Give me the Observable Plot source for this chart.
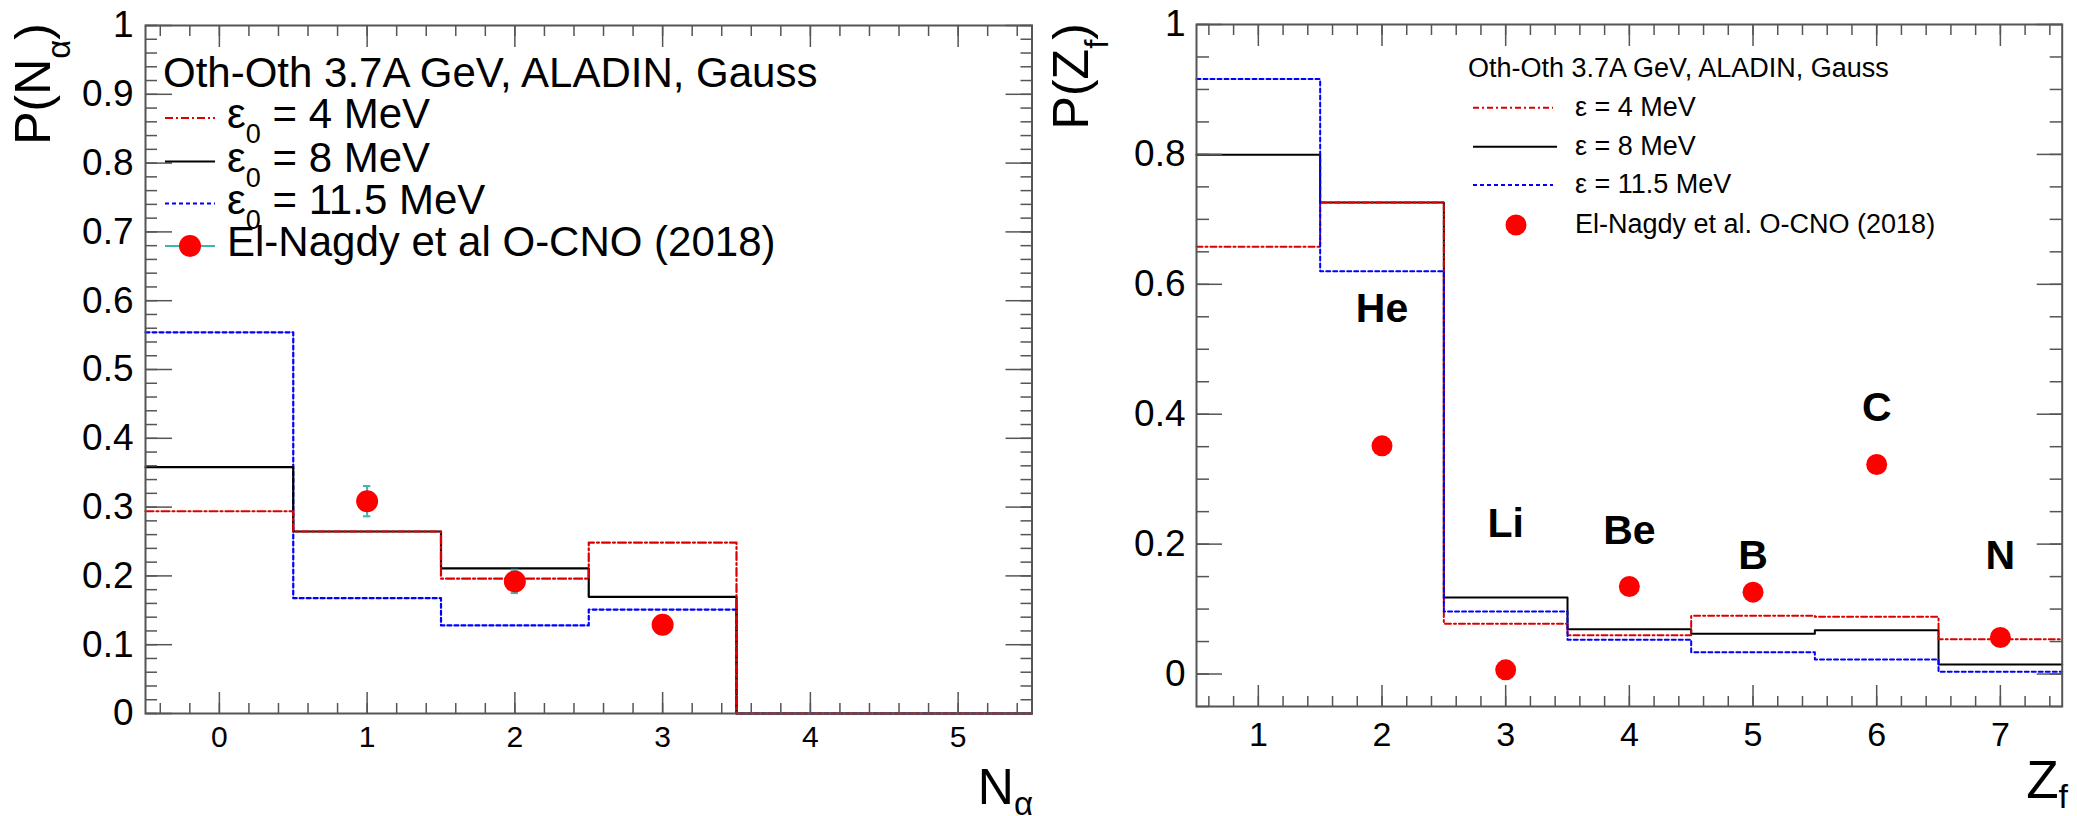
<!DOCTYPE html>
<html><head><meta charset="utf-8">
<script src="https://cdn.jsdelivr.net/npm/d3@7"></script>
<script src="https://cdn.jsdelivr.net/npm/@observablehq/plot@0.6"></script>
<style>
html,body{margin:0;padding:0;background:#fff;}
#wrap{position:relative;width:2077px;height:816px;overflow:hidden;font-family:"Liberation Sans",Arial,Helvetica,sans-serif;}
#left{position:absolute;left:0;top:0;}
#right{position:absolute;left:1040px;top:0;}
</style></head><body><div id="wrap"><div id="left"></div><div id="right"></div></div>
<script>
// ---------------- data: left panel P(N_alpha) ----------------
const nAlphaBins = [0, 1, 2, 3, 4, 5];
const pNalphaE4 = [0.294, 0.2645, 0.196, 0.2485, 0, 0];
const pNalphaE8 = [0.358, 0.2645, 0.211, 0.1696, 0, 0];
const pNalphaE115 = [0.554, 0.1676, 0.128, 0.151, 0, 0];
const nAlphaExpX = [1, 2, 3];
const nAlphaExpY = [0.3086, 0.192, 0.129];
const nAlphaExpErr = [0.022, 0.017, 0.006];

// ---------------- data: right panel P(Z_f) ----------------
const zBins = [1, 2, 3, 4, 5, 6, 7];
const pZE4 = [0.658, 0.726, 0.0773, 0.0597, 0.0896, 0.088, 0.0536];
const pZE8 = [0.7994, 0.726, 0.118, 0.069, 0.062, 0.0674, 0.0146];
const pZE115 = [0.916, 0.620, 0.0962, 0.0527, 0.0336, 0.0223, 0.0034];
const zExpX = [2, 3, 4, 5, 6, 7];
const zExpY = [0.3513, 0.0065, 0.1347, 0.126, 0.3226, 0.0562];
const elementNames = ["He", "Li", "Be", "B", "C", "N"];
const elementLabelY = [0.5416, 0.2106, 0.2005, 0.162, 0.390, 0.162];

// legend texts
const leftLegendTitle = "Oth-Oth 3.7A GeV, ALADIN, Gauss";
const leftLegendRest = [" = 4 MeV", " = 8 MeV", " = 11.5 MeV"];
const leftLegendData = "El-Nagdy et al O-CNO (2018)";
const rightLegendTitle = "Oth-Oth 3.7A GeV, ALADIN, Gauss";
const rightLegendItems = ["\u03b5 = 4 MeV", "\u03b5 = 8 MeV", "\u03b5 = 11.5 MeV", "El-Nagdy et al. O-CNO (2018)"];

// ---------------- styles ----------------
const FONT = '"Liberation Sans", Arial, Helvetica, sans-serif';
const RED_LINE = "#dd0000", BLUE = "#0000ff", BLACK = "#000", MARK = "#ff0000", ERR = "#3cb4b4", AXIS = "#555";
const DASH_RED = "8,3,2,3", DASH_BLUE = "4,3";

function steps(bins, vals) {
  const pts = bins.map((b, i) => ({x: b - 0.5, y: vals[i]}));
  pts.push({x: bins[bins.length - 1] + 0.5, y: vals[vals.length - 1]});
  return pts;
}
const fmt = d => String(+(+d).toFixed(2));
const noLab = () => "";

function frameAxes(o) {
  const m = [];
  m.push(Plot.axisY(o.yMajor, {anchor: "left", tickSize: 0, tickPadding: o.yPad, tickFormat: fmt, fontSize: o.yFont, label: null}));
  m.push(Plot.axisX(o.xMajor, {anchor: "bottom", tickSize: 0, tickPadding: o.xPad, tickFormat: fmt, fontSize: o.xFont, label: null}));
  for (const a of ["left", "right"]) {
    m.push(Plot.axisY(o.yMajor, {anchor: a, tickSize: -o.yMajLen, tickFormat: noLab, label: null, stroke: AXIS, strokeWidth: 1.5}));
    m.push(Plot.axisY(o.yMinor, {anchor: a, tickSize: -o.yMinLen, tickFormat: noLab, label: null, stroke: AXIS, strokeWidth: 1.5}));
  }
  for (const a of ["bottom", "top"]) {
    m.push(Plot.axisX(o.xMajor, {anchor: a, tickSize: -o.xMajLen, tickFormat: noLab, label: null, stroke: AXIS, strokeWidth: 1.5}));
    m.push(Plot.axisX(o.xMinor, {anchor: a, tickSize: -o.xMinLen, tickFormat: noLab, label: null, stroke: AXIS, strokeWidth: 1.5}));
  }
  m.push(Plot.frame({stroke: AXIS, strokeWidth: 2}));
  return m;
}

// ---------------- left panel ----------------
const expLeft = nAlphaExpX.map((x, i) => ({x, y: nAlphaExpY[i], e: nAlphaExpErr[i]}));
const left = Plot.plot({
  width: 1040, height: 816,
  marginLeft: 145, marginRight: 8.5, marginTop: 25, marginBottom: 103,
  style: {fontFamily: FONT, background: "transparent", color: "#000"},
  x: {domain: [-0.5, 5.5], axis: null},
  y: {domain: [0, 1], axis: null},
  marks: [
    Plot.line(steps(nAlphaBins, pNalphaE115), {x: "x", y: "y", curve: "step-after", stroke: BLUE, strokeWidth: 2.2, strokeDasharray: DASH_BLUE}),
    Plot.line(steps(nAlphaBins, pNalphaE8), {x: "x", y: "y", curve: "step-after", stroke: BLACK, strokeWidth: 2.2}),
    Plot.line(steps(nAlphaBins, pNalphaE4), {x: "x", y: "y", curve: "step-after", stroke: RED_LINE, strokeWidth: 2.2, strokeDasharray: DASH_RED}),
    Plot.ruleX(expLeft, {x: "x", y1: d => d.y - d.e, y2: d => d.y + d.e, stroke: ERR, strokeWidth: 2}),
    Plot.ruleY(expLeft, {y: d => d.y - d.e, x1: d => d.x - 0.025, x2: d => d.x + 0.025, stroke: ERR, strokeWidth: 2}),
    Plot.ruleY(expLeft, {y: d => d.y + d.e, x1: d => d.x - 0.025, x2: d => d.x + 0.025, stroke: ERR, strokeWidth: 2}),
    Plot.dot(expLeft, {x: "x", y: "y", r: 11, fill: MARK}),
    ...frameAxes({
      yMajor: d3.range(0, 1.0001, 0.1), yMinor: d3.range(0, 1.0001, 0.02),
      xMajor: d3.range(0, 5.001, 1), xMinor: d3.range(-0.4, 5.45, 0.2),
      yPad: 12, xPad: 12, yFont: 37, xFont: 30,
      yMajLen: 27, yMinLen: 12, xMajLen: 21, xMinLen: 10
    })
  ]
});
document.getElementById("left").appendChild(left);

// ---------------- right panel ----------------
const expRight = zExpX.map((x, i) => ({x, y: zExpY[i]}));
const labelsRight = zExpX.map((x, i) => ({x, y: elementLabelY[i], name: elementNames[i]}));
const right = Plot.plot({
  width: 1037, height: 816,
  marginLeft: 156, marginRight: 15.3, marginTop: 24, marginBottom: 110,
  style: {fontFamily: FONT, background: "transparent", color: "#000"},
  x: {domain: [0.5, 7.5], axis: null},
  y: {domain: [-0.05, 1], axis: null},
  marks: [
    Plot.line(steps(zBins, pZE8), {x: "x", y: "y", curve: "step-after", stroke: BLACK, strokeWidth: 2}),
    Plot.line(steps(zBins, pZE4), {x: "x", y: "y", curve: "step-after", stroke: RED_LINE, strokeWidth: 2, strokeDasharray: "6,3,2,3"}),
    Plot.line(steps(zBins, pZE115), {x: "x", y: "y", curve: "step-after", stroke: BLUE, strokeWidth: 2, strokeDasharray: DASH_BLUE}),
    Plot.dot(expRight, {x: "x", y: "y", r: 10.5, fill: MARK}),
    Plot.text(labelsRight, {x: "x", y: "y", text: "name", fontSize: 41, fontWeight: "bold", lineAnchor: "bottom", fill: "#000"}),
    ...frameAxes({
      yMajor: d3.range(0, 1.0001, 0.2), yMinor: d3.range(-0.05, 1.0001, 0.05),
      xMajor: d3.range(1, 7.001, 1), xMinor: d3.range(0.6, 7.45, 0.2),
      yPad: 11, xPad: 15, yFont: 37, xFont: 34,
      yMajLen: 26, yMinLen: 13, xMajLen: 21, xMinLen: 10
    })
  ]
});
document.getElementById("right").appendChild(right);

// ---------------- titles & legends (SVG text) ----------------
function txt(sel, size, anchor) {
  return sel.append("text").attr("font-family", FONT).attr("fill", "#000").attr("font-size", size).attr("text-anchor", anchor || "start");
}
function sub(sel, main, subTxt, after, mainSize, subSize, dy, anchor) {
  const t = txt(sel, mainSize, anchor);
  t.append("tspan").text(main);
  t.append("tspan").attr("font-size", subSize).attr("dy", dy).text(subTxt);
  if (after) t.append("tspan").attr("dy", -dy).text(after);
  return t;
}
const L = d3.select(left), R = d3.select(right);

// axis titles
sub(L, "P(N", "\u03b1", ")", 50, 33, 20, "end").attr("transform", "translate(50,23) rotate(-90)");
sub(L, "N", "\u03b1", null, 50, 33, 11, "end").attr("x", 1033).attr("y", 804);
sub(R, "P(Z", "f", ")", 50, 33, 20, "end").attr("transform", "translate(48,23) rotate(-90)");
sub(R, "Z", "f", null, 53, 34, 10, "end").attr("x", 1028).attr("y", 798);

// left legend
{
  const g = L.append("g");
  txt(g, 42).attr("x", 163).attr("y", 87).text(leftLegendTitle);
  const rows = [118, 161.5, 203.5, 246];
  const styles = [[RED_LINE, DASH_RED], [BLACK, null], [BLUE, DASH_BLUE]];
  styles.forEach(([c, d], i) => {
    const ln = g.append("line").attr("x1", 165).attr("x2", 215).attr("y1", rows[i]).attr("y2", rows[i]).attr("stroke", c).attr("stroke-width", 2.2);
    if (d) ln.attr("stroke-dasharray", d);
    sub(g, "\u03b5", "0", leftLegendRest[i], 42, 27, 15, "start").attr("x", 227).attr("y", rows[i] + 10);
  });
  g.append("line").attr("x1", 165).attr("x2", 215).attr("y1", rows[3]).attr("y2", rows[3]).attr("stroke", ERR).attr("stroke-width", 2);
  g.append("circle").attr("cx", 190).attr("cy", rows[3]).attr("r", 11).attr("fill", MARK);
  txt(g, 42).attr("x", 227).attr("y", rows[3] + 10).text(leftLegendData);
}
// right legend
{
  const g = R.append("g");
  txt(g, 27).attr("x", 428).attr("y", 77).text(rightLegendTitle);
  const rows = [107.7, 146.7, 185, 225];
  const styles = [[RED_LINE, "6,3,2,3"], [BLACK, null], [BLUE, DASH_BLUE]];
  styles.forEach(([c, d], i) => {
    const ln = g.append("line").attr("x1", 433).attr("x2", i === 1 ? 517 : 513).attr("y1", rows[i]).attr("y2", rows[i]).attr("stroke", c).attr("stroke-width", 2);
    if (d) ln.attr("stroke-dasharray", d);
  });
  g.append("circle").attr("cx", 476).attr("cy", rows[3]).attr("r", 10.5).attr("fill", MARK);
  rightLegendItems.forEach((t, i) => {
    txt(g, 27).attr("x", 535).attr("y", rows[i] + 8).text(t);
  });
}
</script></body></html>
